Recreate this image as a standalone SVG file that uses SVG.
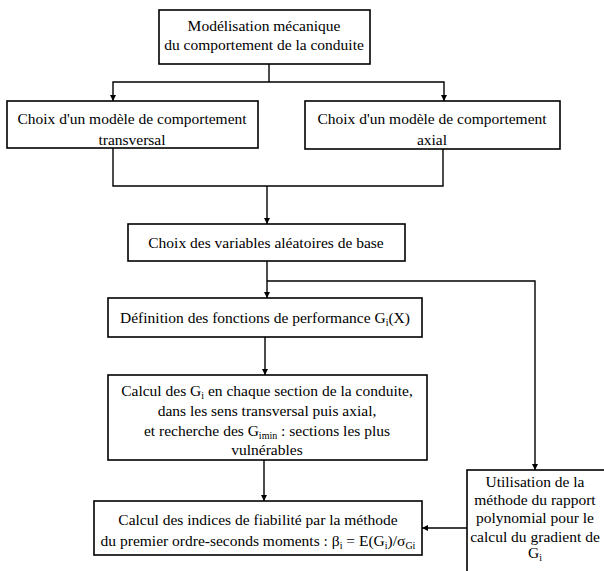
<svg xmlns="http://www.w3.org/2000/svg" width="604" height="571" viewBox="0 0 604 571">
<defs>
<marker id="arr" viewBox="0 0 10 10" refX="10" refY="5" markerWidth="6" markerHeight="10" orient="auto" markerUnits="userSpaceOnUse">
<path d="M0,0 L10,5 L0,10 z" fill="#000"/>
</marker>
<style>
.box{fill:#fff;stroke:#000;stroke-width:1.6}
.ln{fill:none;stroke:#000;stroke-width:1.4}
.t{font-family:"Liberation Serif","Times New Roman",serif;font-size:15.5px;fill:#000;text-anchor:middle}
.s{font-size:10px}
</style>
</defs>
<rect width="604" height="571" fill="#fff"/>
<g id="connectors">
<polyline class="ln" points="269,64 269,82"/>
<polyline class="ln" points="269,82 113,82 113,101" marker-end="url(#arr)"/>
<polyline class="ln" points="269,82 444,82 444,101" marker-end="url(#arr)"/>
<polyline class="ln" points="113,148 113,186 443,186 443,149"/>
<line class="ln" x1="267" y1="186" x2="267" y2="224" marker-end="url(#arr)"/>
<line class="ln" x1="267" y1="261" x2="267" y2="298" marker-end="url(#arr)"/>
<polyline class="ln" points="267,281 535,281 535,470" marker-end="url(#arr)"/>
<line class="ln" x1="265" y1="337" x2="265" y2="375" marker-end="url(#arr)"/>
<line class="ln" x1="264" y1="460" x2="264" y2="501" marker-end="url(#arr)"/>
<line class="ln" x1="467" y1="528" x2="422" y2="528" marker-end="url(#arr)"/>
</g>
<g id="n1">
<rect class="box" x="159" y="10" width="211" height="54"/>
<text class="t" x="264" y="31">Modélisation mécanique</text>
<text class="t" x="264" y="50">du comportement de la conduite</text>
</g>
<g id="n2">
<rect class="box" x="7" y="101" width="251" height="47"/>
<text class="t" x="132" y="124">Choix d'un modèle de comportement</text>
<text class="t" x="132" y="145">transversal</text>
</g>
<g id="n3">
<rect class="box" x="305" y="101" width="255" height="48"/>
<text class="t" x="432" y="124">Choix d'un modèle de comportement</text>
<text class="t" x="432" y="145">axial</text>
</g>
<g id="n4">
<rect class="box" x="128" y="224" width="277" height="37"/>
<text class="t" x="266" y="248">Choix des variables aléatoires de base</text>
</g>
<g id="n5">
<rect class="box" x="108" y="298" width="314" height="39"/>
<text class="t" x="265" y="323">Définition des fonctions de performance G<tspan class="s" dy="3">i</tspan><tspan dy="-3">(X)</tspan></text>
</g>
<g id="n6">
<rect class="box" x="108" y="375" width="319" height="85"/>
<text class="t" x="267" y="396">Calcul des G<tspan class="s" dy="3">i</tspan><tspan dy="-3"> en chaque section de la conduite,</tspan></text>
<text class="t" x="267" y="416">dans les sens transversal puis axial,</text>
<text class="t" x="267" y="436">et recherche des G<tspan class="s" dy="3">imin</tspan><tspan dy="-3"> : sections les plus</tspan></text>
<text class="t" x="267" y="455">vulnérables</text>
</g>
<g id="n7">
<rect class="box" x="94" y="501" width="328" height="54"/>
<text class="t" x="258" y="525">Calcul des indices de fiabilité par la méthode</text>
<text class="t" x="258" y="546">du premier ordre-seconds moments : β<tspan class="s" dy="3">i</tspan><tspan dy="-3"> = E(G</tspan><tspan class="s" dy="3">i</tspan><tspan dy="-3">)/σ</tspan><tspan class="s" dy="3">Gi</tspan></text>
</g>
<g id="n8">
<rect class="box" x="467" y="470" width="140" height="110"/>
<text class="t" x="535" y="487">Utilisation de la</text>
<text class="t" x="535" y="505">méthode du rapport</text>
<text class="t" x="535" y="523">polynomial pour le</text>
<text class="t" x="535" y="542">calcul du gradient de</text>
<text class="t" x="535" y="558">G<tspan class="s" dy="3">i</tspan></text>
</g>
</svg>
